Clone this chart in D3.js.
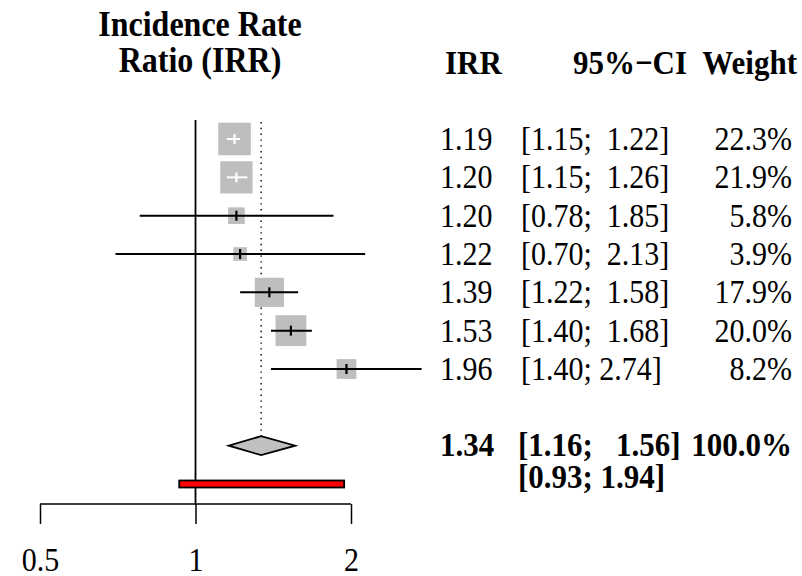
<!DOCTYPE html>
<html>
<head>
<meta charset="utf-8">
<script src="https://d3js.org/d3.v7.min.js"></script>
<style>
    body { margin: 0; background: #fff; }
    text { font-family: "Liberation Serif", "Times New Roman", serif; white-space: pre; }
</style>
</head>
<body>
<div id="chart"></div>
<script>
// study level values
var irr = [1.19, 1.20, 1.20, 1.22, 1.39, 1.53, 1.96];
var lower = [1.15, 1.15, 0.78, 0.70, 1.22, 1.40, 1.40];
var upper = [1.22, 1.26, 1.85, 2.13, 1.58, 1.68, 2.74];
var weight = [22.3, 21.9, 5.8, 3.9, 17.9, 20.0, 8.2];
var ciLabels = ["[1.15;  1.22]", "[1.15;  1.26]", "[0.78;  1.85]", "[0.70;  2.13]",
    "[1.22;  1.58]", "[1.40;  1.68]", "[1.40; 2.74]"];
// pooled + prediction interval
var pooled = [1.34, 1.16, 1.56];
var pooledWeight = "100.0%";
var pooledCI = "[1.16;   1.56]";
var predInt = [0.93, 1.94];
var predCI = "[0.93; 1.94]";
// axis
var tickValues = [0.5, 1, 2];
var tickLabels = ["0.5", "1", "2"];

var width = 802, height = 576;
var fs = 30;
var stretch = 1.1; // reference glyphs are a bit taller than wide
var svg = d3.select("#chart").append("svg").attr("width", width).attr("height", height);

var x = d3.scaleLog().domain([0.5, 2]).range([40, 351]);
// row index -> y, studies 0..6, pooled at 8, prediction at 9
var y = d3.scaleLinear().domain([0, 9]).range([139, 484]);

// reference line at 1
svg.append("line").attr("x1", x(1)).attr("x2", x(1)).attr("y1", 120).attr("y2", 504)
    .attr("stroke", "#000").attr("stroke-width", 1.8);
// dotted line at pooled estimate
svg.append("line").attr("x1", x(pooled[0])).attr("x2", x(pooled[0])).attr("y1", 122).attr("y2", y(8) - 10)
    .attr("stroke", "#000").attr("stroke-width", 1.4).attr("stroke-dasharray", "1.4,4.4");

var rows = irr.map(function (d, i) {
    return { est: d, lo: lower[i], hi: upper[i], w: weight[i], ci: ciLabels[i], i: i };
});

var g = svg.append("g");
rows.forEach(function (d) {
    var cy = y(d.i);
    var side = 6.9 * Math.sqrt(d.w);
    // CI fits inside the square -> drawn white
    var inside = x(d.lo) > x(d.est) - side / 2 && x(d.hi) < x(d.est) + side / 2;
    var col = inside ? "#fff" : "#000";
    g.append("rect").attr("x", x(d.est) - side / 2).attr("y", cy - side / 2)
        .attr("width", side).attr("height", side).attr("fill", "#bebebe");
    g.append("line").attr("x1", x(d.lo)).attr("x2", x(d.hi)).attr("y1", cy).attr("y2", cy)
        .attr("stroke", col).attr("stroke-width", 2);
    g.append("line").attr("x1", x(d.est)).attr("x2", x(d.est)).attr("y1", cy - 5).attr("y2", cy + 5)
        .attr("stroke", col).attr("stroke-width", 2.2);
});

// pooled diamond
var dy = y(8);
svg.append("path")
    .attr("d", "M" + x(pooled[1]) + "," + dy + "L" + x(pooled[0]) + "," + (dy - 9.5) +
        "L" + x(pooled[2]) + "," + dy + "L" + x(pooled[0]) + "," + (dy + 9.5) + "Z")
    .attr("fill", "#c0c0c0").attr("stroke", "#000").attr("stroke-width", 1.8);

// prediction interval bar
var py = y(9);
svg.append("rect").attr("x", x(predInt[0])).attr("y", py - 3.5)
    .attr("width", x(predInt[1]) - x(predInt[0])).attr("height", 7)
    .attr("fill", "#ff0000").attr("stroke", "#000").attr("stroke-width", 1.8);

// x axis
var axis = svg.append("g").attr("transform", "translate(0,504)")
    .call(d3.axisBottom(x).tickValues(tickValues).tickSize(20).tickPadding(26)
        .tickFormat(function (d, i) { return tickLabels[i]; }));
axis.select(".domain").attr("d", "M" + x(0.5) + ",0H" + x(2)).attr("stroke-width", 1.5);
axis.selectAll(".tick line").attr("stroke-width", 1.5);
axis.selectAll(".tick text").attr("font-size", fs).attr("fill", "#000")
    .attr("transform", "scale(1," + stretch + ")").attr("y", 40);

function txt(xp, yp, s, anchor, bold, size) {
    return svg.append("text").attr("transform", "translate(" + xp + "," + yp + ") scale(1," + stretch + ")")
        .text(s).attr("text-anchor", anchor).attr("font-size", size || fs)
        .attr("font-weight", bold ? "bold" : "normal").attr("fill", "#000");
}
// headings
txt(200, 36, "Incidence Rate", "middle", true, 32);
txt(200, 72, "Ratio (IRR)", "middle", true, 32);
txt(445, 74, "IRR", "start", true, 31);
txt(687, 74, "95%\u2212CI", "end", true, 31);
txt(797, 74, "Weight", "end", true, 31);

// study columns
rows.forEach(function (d) {
    var by = y(d.i) + 11;
    txt(440, by, d.est.toFixed(2), "start", false);
    txt(521, by, d.ci, "start", false);
    txt(792, by, d.w.toFixed(1) + "%", "end", false);
});
txt(440, dy + 10, pooled[0].toFixed(2), "start", true, 31);
txt(518, dy + 10, pooledCI, "start", true, 31);
txt(792, dy + 10, pooledWeight, "end", true, 31);
txt(518, py + 4, predCI, "start", true, 31);
</script>
</body>
</html>
